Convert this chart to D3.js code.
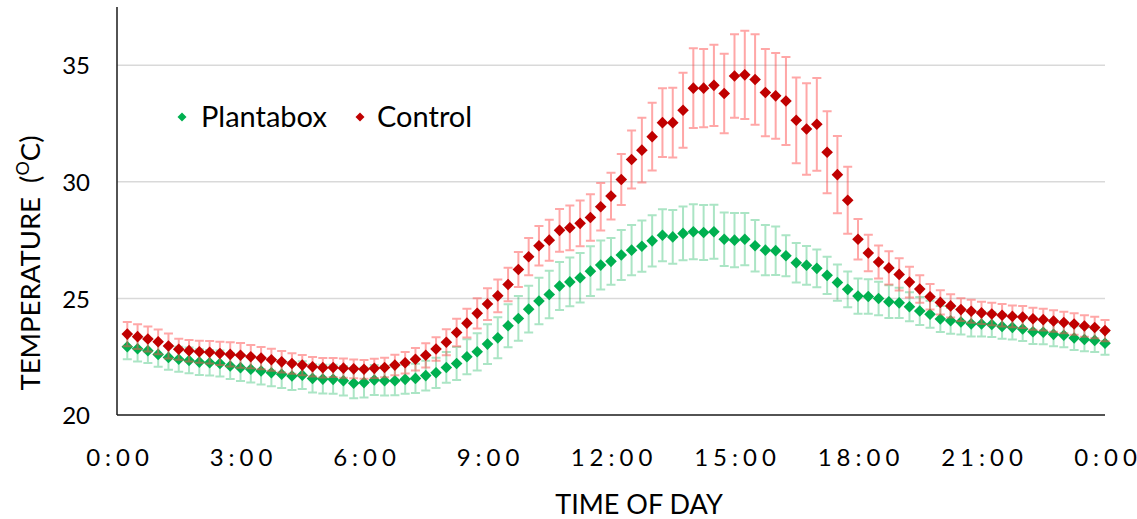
<!DOCTYPE html>
<html>
<head>
<meta charset="utf-8">
<script src="https://cdn.jsdelivr.net/npm/d3@7"></script>
<style>
  html, body { margin: 0; padding: 0; background: #fff; }
  svg { display: block; }
  text { font-family: Lato, "Open Sans", sans-serif; fill: #000; }
</style>
</head>
<body>
<svg id="chart" width="1137" height="519"></svg>
<script>
// Time index: quarter hours after midnight (1 = 0:15 ... 96 = 24:00)
const timeSlots = d3.range(1, 97);

const xTickValues = [0, 12, 24, 36, 48, 60, 72, 84, 96];
const xTickLabels = ["0:00", "3:00", "6:00", "9:00", "12:00", "15:00", "18:00", "21:00", "0:00"];
const yTickValues = [20, 25, 30, 35];

const seriesNames = ["Plantabox", "Control"];

const plantabox = [
  22.93, 22.84, 22.76, 22.60, 22.47, 22.39, 22.34, 22.27, 22.24, 22.21, 22.10, 22.03, 21.96, 21.89, 21.81, 21.75,
  21.67, 21.71, 21.57, 21.54, 21.53, 21.47, 21.36, 21.39, 21.50, 21.47, 21.47, 21.53, 21.57, 21.69, 21.81,
  22.04, 22.21, 22.50, 22.71, 23.04, 23.31, 23.83, 24.14, 24.54, 24.89, 25.17, 25.53, 25.71, 25.89, 26.17, 26.43, 26.59,
  26.86, 27.07, 27.24, 27.47, 27.71, 27.64, 27.79, 27.86, 27.83, 27.86, 27.54, 27.50, 27.54, 27.26, 27.07, 27.05,
  26.83, 26.53, 26.42, 26.29, 25.99, 25.68, 25.39, 25.10, 25.08, 25.00, 24.86, 24.81, 24.64, 24.46, 24.32, 24.12,
  24.04, 23.99, 23.91, 23.90, 23.88, 23.80, 23.76, 23.69, 23.57, 23.55, 23.46, 23.42, 23.30, 23.24, 23.20, 23.08
];
const plantaboxErr = [
  0.54, 0.54, 0.53, 0.53, 0.53, 0.54, 0.55, 0.55, 0.55, 0.56, 0.56, 0.57, 0.57, 0.58, 0.58, 0.59,
  0.60, 0.60, 0.61, 0.62, 0.62, 0.63, 0.64, 0.64, 0.64, 0.63, 0.62, 0.62, 0.63, 0.64, 0.65,
  0.66, 0.71, 0.75, 0.80, 0.85, 0.88, 0.92, 0.96, 1.00, 1.00, 1.02, 1.03, 1.05, 1.06, 1.07, 1.05, 1.00,
  1.07, 1.08, 1.10, 1.10, 1.12, 1.15, 1.15, 1.18, 1.18, 1.16, 1.15, 1.16, 1.12, 1.10, 1.08, 1.04,
  0.88, 0.85, 0.83, 0.81, 0.80, 0.78, 0.77, 0.76, 0.74, 0.72, 0.70, 0.65, 0.62, 0.60, 0.58, 0.56,
  0.55, 0.54, 0.54, 0.53, 0.53, 0.53, 0.52, 0.52, 0.52, 0.52, 0.51, 0.51, 0.51, 0.51, 0.50, 0.50
];

const control = [
  23.47, 23.36, 23.26, 23.14, 22.96, 22.82, 22.76, 22.71, 22.69, 22.64, 22.60, 22.56, 22.50, 22.44, 22.37, 22.28,
  22.21, 22.14, 22.07, 22.03, 22.04, 22.01, 21.98, 21.96, 22.00, 22.04, 22.14, 22.24, 22.39, 22.56, 22.83,
  23.12, 23.54, 23.94, 24.36, 24.76, 25.11, 25.60, 26.24, 26.79, 27.26, 27.50, 27.92, 28.03, 28.22, 28.47, 28.93, 29.39,
  30.10, 30.96, 31.36, 31.94, 32.54, 32.54, 33.07, 34.02, 34.02, 34.14, 33.79, 34.54, 34.59, 34.39, 33.83, 33.69,
  33.47, 32.64, 32.27, 32.47, 31.27, 30.31, 29.21, 27.54, 26.95, 26.56, 26.31, 26.03, 25.70, 25.40, 25.07, 24.83,
  24.68, 24.52, 24.45, 24.38, 24.33, 24.28, 24.23, 24.20, 24.13, 24.09, 24.03, 23.97, 23.90, 23.82, 23.75, 23.62
];
const controlErr = [
  0.52, 0.53, 0.54, 0.53, 0.54, 0.45, 0.46, 0.47, 0.48, 0.50, 0.52, 0.53, 0.50, 0.48, 0.47, 0.46,
  0.44, 0.43, 0.42, 0.42, 0.41, 0.41, 0.40, 0.40, 0.41, 0.42, 0.44, 0.46,
  0.48, 0.52, 0.50,
  0.56, 0.59, 0.62, 0.65, 0.68, 0.70, 0.72, 0.75, 0.80, 0.85, 0.88, 0.92, 0.96, 0.98, 1.00, 1.02, 1.00,
  1.09, 1.24, 1.39, 1.45, 1.47, 1.50, 1.61, 1.71, 1.68, 1.74, 1.70, 1.79, 1.89, 1.94, 1.87, 1.84, 1.89, 1.84, 1.96, 1.99, 1.76, 1.66, 1.44,
  0.87, 0.78, 0.71, 0.71, 0.69, 0.66, 0.59, 0.55, 0.52,
  0.50, 0.49, 0.49, 0.48, 0.48, 0.48, 0.47, 0.47, 0.47, 0.47, 0.46, 0.46, 0.46, 0.46, 0.46, 0.46
];

const svg = d3.select("#chart");
const plot = { left: 117, right: 1105, top: 7, bottom: 415 };

const x = d3.scaleLinear().domain([0, 96]).range([plot.left, plot.right]);
const y = d3.scaleLinear().domain([20, 37.5]).range([plot.bottom, plot.top]);

// gridlines
svg.append("g")
  .selectAll("line")
  .data(yTickValues.filter(v => v > 20))
  .join("line")
  .attr("x1", plot.left).attr("x2", plot.right)
  .attr("y1", d => y(d)).attr("y2", d => y(d))
  .attr("stroke", "#d9d9d9").attr("stroke-width", 1.5);

// axes
const yAxis = d3.axisLeft(y).tickValues(yTickValues).tickSize(0).tickPadding(0).tickFormat(d3.format("d"));
const gy = svg.append("g").attr("transform", `translate(${plot.left},0)`).call(yAxis);
gy.select(".domain").remove();
gy.selectAll("text")
  .attr("x", 90 - plot.left)
  .attr("dy", "0.36em")
  .attr("text-anchor", "end")
  .style("font-size", "24px")
  .style("font-family", "Lato, 'Open Sans', sans-serif");

const xAxis = d3.axisBottom(x).tickValues(xTickValues).tickSize(0).tickPadding(0)
  .tickFormat((d, i) => xTickLabels[i]);
const gx = svg.append("g").attr("transform", `translate(0,${plot.bottom})`).call(xAxis);
gx.select(".domain").remove();
gx.selectAll("text")
  .attr("y", 51)
  .attr("dy", 0)
  .style("font-size", "24px")
  .style("font-family", "Lato, 'Open Sans', sans-serif")
  .each(function() {
    const t = d3.select(this);
    const n = t.text().length;
    const w = this.getComputedTextLength();
    t.attr("textLength", w + (n - 1) * 5).attr("lengthAdjust", "spacing");
  });

// axis lines
svg.append("line")
  .attr("x1", plot.left).attr("x2", plot.left)
  .attr("y1", plot.top).attr("y2", plot.bottom)
  .attr("stroke", "#1a1a1a").attr("stroke-width", 1.5);
svg.append("line")
  .attr("x1", plot.left).attr("x2", plot.right)
  .attr("y1", plot.bottom).attr("y2", plot.bottom)
  .attr("stroke", "#1a1a1a").attr("stroke-width", 1.5);

// series
const series = [
  { name: seriesNames[0], values: plantabox, errs: plantaboxErr, color: "#00b050", errColor: "rgba(0,176,80,0.33)" },
  { name: seriesNames[1], values: control, errs: controlErr, color: "#c00000", errColor: "rgba(255,80,80,0.5)" }
];

const capHalf = 4.5;
const mk = 5.8;

series.forEach(s => {
  const g = svg.append("g");
  const pts = timeSlots.map((t, i) => ({ t, v: s.values[i], e: s.errs[i] }));
  const eb = g.append("g")
    .attr("stroke", s.errColor).attr("stroke-width", 2).attr("fill", "none");
  eb.selectAll("path")
    .data(pts)
    .join("path")
    .attr("d", d => {
      const cx = x(d.t), y1 = y(d.v + d.e), y2 = y(d.v - d.e);
      return `M${cx - capHalf},${y1}H${cx + capHalf}M${cx},${y1}V${y2}M${cx - capHalf},${y2}H${cx + capHalf}`;
    });
  g.append("g").selectAll("path")
    .data(pts)
    .join("path")
    .attr("transform", d => `translate(${x(d.t)},${y(d.v)})`)
    .attr("d", `M0,${-mk}L${mk},0L0,${mk}L${-mk},0Z`)
    .attr("fill", s.color);
});

// legend
const legend = svg.append("g");
const legendItems = [
  { name: seriesNames[0], color: "#00b050", mx: 182, tx: 201 },
  { name: seriesNames[1], color: "#c00000", mx: 360, tx: 377 }
];
legendItems.forEach(l => {
  legend.append("path")
    .attr("transform", `translate(${l.mx},117)`)
    .attr("d", "M0,-4.5L4.5,0L0,4.5L-4.5,0Z")
    .attr("fill", l.color);
  legend.append("text")
    .attr("x", l.tx).attr("y", 127)
    .style("font-size", "29px")
    .text(l.name);
});

// axis titles
svg.append("text")
  .attr("x", 639).attr("y", 514)
  .attr("text-anchor", "middle")
  .style("font-size", "27px")
  .text("TIME OF DAY");

const yt = svg.append("text")
  .attr("transform", "translate(40,263) rotate(-90)")
  .attr("text-anchor", "middle")
  .style("font-size", "27.5px");
yt.append("tspan").text("TEMPERATURE\u00a0\u00a0(");
yt.append("tspan").attr("baseline-shift", "super").style("font-size", "18px").text("O");
yt.append("tspan").text("C)");
</script>
</body>
</html>
